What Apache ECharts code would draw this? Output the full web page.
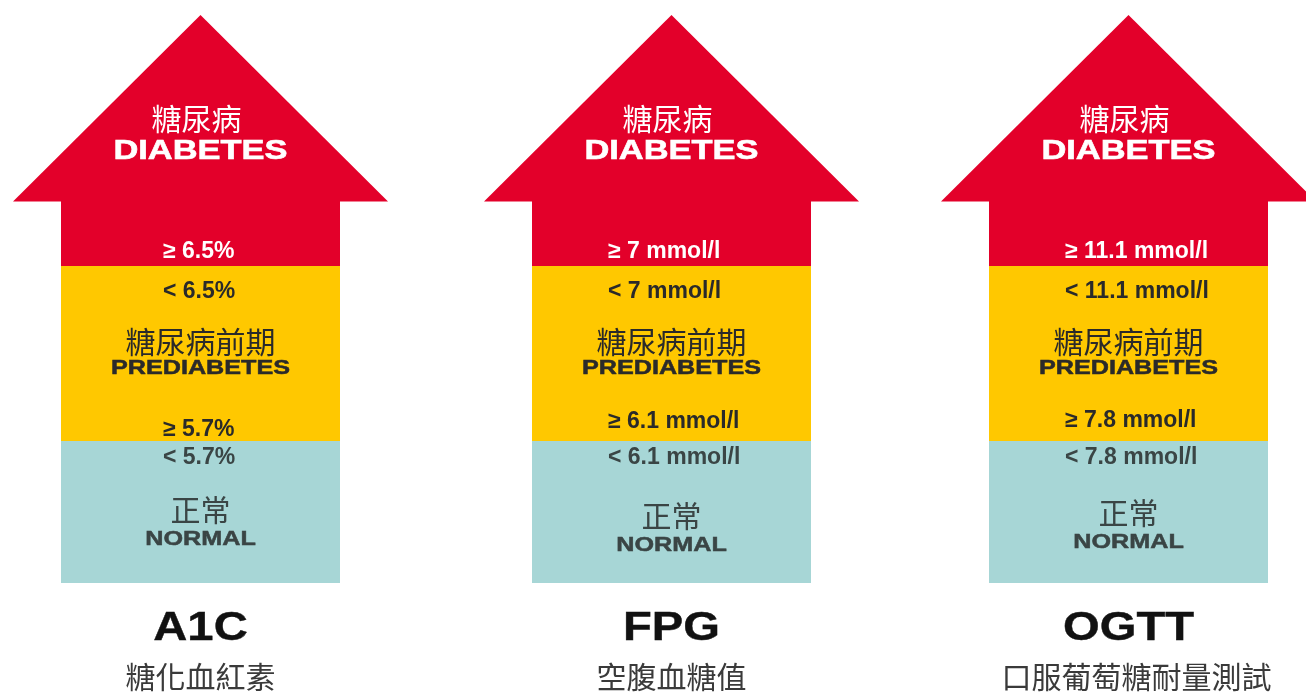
<!DOCTYPE html>
<html>
<head>
<meta charset="utf-8">
<title>糖尿病診斷標準</title>
<script src="https://cdn.jsdelivr.net/npm/echarts@6/dist/echarts.min.js"></script>
<style>
  html, body { margin: 0; padding: 0; background: #ffffff; }
  #chart { width: 1306px; height: 693px; }
</style>
</head>
<body>
<div id="chart"></div>
<script>
// Tests and their diagnostic thresholds
const tests = ['A1C', 'FPG', 'OGTT'];
const testNamesZh = ['糖化血紅素', '空腹血糖值', '口服葡萄糖耐量測試'];
const diabetesFrom = ['≥ 6.5%', '≥ 7 mmol/l', '≥ 11.1 mmol/l'];
const prediabetesBelow = ['< 6.5%', '< 7 mmol/l', '< 11.1 mmol/l'];
const prediabetesFrom = ['≥ 5.7%', '≥ 6.1 mmol/l', '≥ 7.8 mmol/l'];
const normalBelow = ['< 5.7%', '< 6.1 mmol/l', '< 7.8 mmol/l'];

// Stage names, bottom to top
const stageZh = ['正常', '糖尿病前期', '糖尿病'];
const stageEn = ['NORMAL', 'PREDIABETES', 'DIABETES'];

// Height of each stage band along the arrow (arbitrary units)
const normalSpan = [142, 142, 142];
const prediabetesSpan = [175, 175, 175];
const diabetesSpan = [65, 65, 65];
const arrowheadSpan = [186, 186, 186];

// ---- layout & style ----
const colors = { normal: '#A7D6D6', prediabetes: '#FFC800', diabetes: '#E3002A' };
const ink = { onRed: '#FFFFFF', onYellow: '#2A2A2A', onTeal: '#3A4545', title: '#111111', sub: '#3A3A3A' };
const gridLefts = [61, 532, 989];
const gridWidth = 279;
const gridTop = 15;
const gridHeight = 568;
const headWidthRatio = 375 / 279;
const thresholdLeft = [102, 76, 76];      // px from body left edge
const prediabetesFromGap = [11, 19, 20];  // px above the teal/yellow boundary
const normalTextDrop = [0, 6, 3];

const CJK = '"Noto Sans CJK TC", "Noto Sans CJK SC", sans-serif';
const SANS = '"Liberation Sans", Arial, sans-serif';

function txt(text, x, y, font, fill, align, sx, heavy) {
  const style = { text: text, x: 0, y: 0, font: font, fill: fill, align: align || 'center', verticalAlign: 'middle' };
  if (heavy) { style.stroke = fill; style.lineWidth = heavy; }
  return { type: 'text', x: x, y: y, scaleX: sx || 1, scaleY: 1, style: style };
}

function headRenderer(i) {
  return function (params, api) {
    const base = api.coord([api.value(0), api.value(1)]);
    const tip = api.coord([api.value(0), api.value(2)]);
    const half = api.size([1, 0])[0] / 2 * headWidthRatio;
    return {
      type: 'polygon',
      shape: { points: [[base[0] - half, base[1] + 0.5], [base[0] + half, base[1] + 0.5], [base[0], tip[1]]] },
      style: { fill: colors.diabetes }
    };
  };
}

function labelRenderer(i) {
  return function (params, api) {
    const bottom = api.coord([0, 0]);
    const cx = bottom[0];
    const yBottom = bottom[1];
    const yPre = api.coord([0, normalSpan[i]])[1];
    const yDia = api.coord([0, normalSpan[i] + prediabetesSpan[i]])[1];
    const yHead = api.coord([0, normalSpan[i] + prediabetesSpan[i] + diabetesSpan[i]])[1];
    const bw = api.size([1, 0])[0];
    const tx = cx - bw / 2 + thresholdLeft[i];
    const th = 'bold 23px ' + SANS;
    const nd = normalTextDrop[i];
    return {
      type: 'group',
      children: [
        // diabetes
        txt(stageZh[2], cx - 4, yHead - 82, '30px ' + CJK, ink.onRed),
        txt(stageEn[2], cx, yHead - 50, 'bold 28px ' + SANS, ink.onRed, 'center', 1.23, 0.6),
        txt(diabetesFrom[i], tx, yDia - 14, th, ink.onRed, 'left'),
        // prediabetes
        txt(prediabetesBelow[i], tx, yDia + 26, th, ink.onYellow, 'left'),
        txt(stageZh[1], cx, yDia + 76, '30px ' + CJK, ink.onYellow),
        txt(stageEn[1], cx, yDia + 102, 'bold 21px ' + SANS, ink.onYellow, 'center', 1.2, 0.5),
        txt(prediabetesFrom[i], tx, yPre - prediabetesFromGap[i], th, ink.onYellow, 'left'),
        // normal
        txt(normalBelow[i], tx, yPre + 17, th, ink.onTeal, 'left'),
        txt(stageZh[0], cx, yPre + 69 + nd, '30px ' + CJK, ink.onTeal),
        txt(stageEn[0], cx, yPre + 98 + nd, 'bold 21px ' + SANS, ink.onTeal, 'center', 1.2, 0.5),
        // test name
        txt(tests[i], cx, yBottom + 46, 'bold 40px ' + SANS, ink.title, 'center', 1.18, 0.4),
        txt(testNamesZh[i], cx + (i === 2 ? 8 : 0), yBottom + 94, '30px ' + CJK, ink.sub)
      ]
    };
  };
}

const grid = [], xAxis = [], yAxis = [], series = [];
tests.forEach(function (name, i) {
  const total = normalSpan[i] + prediabetesSpan[i] + diabetesSpan[i] + arrowheadSpan[i];
  grid.push({ left: gridLefts[i], top: gridTop, width: gridWidth, height: gridHeight });
  xAxis.push({ type: 'category', gridIndex: i, data: [name], show: false, boundaryGap: true });
  yAxis.push({ type: 'value', gridIndex: i, min: 0, max: total, show: false, splitLine: { show: false } });
  const bands = [
    ['normal', normalSpan[i]],
    ['prediabetes', prediabetesSpan[i]],
    ['diabetes', diabetesSpan[i]]
  ];
  bands.forEach(function (b) {
    series.push({
      type: 'bar', name: b[0], xAxisIndex: i, yAxisIndex: i, stack: 'arrow' + i,
      barWidth: '100%', data: [b[1]], itemStyle: { color: colors[b[0]] }, silent: true
    });
  });
  const base = normalSpan[i] + prediabetesSpan[i] + diabetesSpan[i];
  series.push({
    type: 'custom', xAxisIndex: i, yAxisIndex: i, clip: false, silent: true,
    data: [[0, base, base + arrowheadSpan[i]]], renderItem: headRenderer(i), z: 3
  });
  series.push({
    type: 'custom', xAxisIndex: i, yAxisIndex: i, clip: false, silent: true,
    data: [[0]], renderItem: labelRenderer(i), z: 10
  });
});

const chart = echarts.init(document.getElementById('chart'), null, { renderer: 'canvas' });
chart.setOption({
  backgroundColor: '#ffffff',
  animation: false,
  grid: grid,
  xAxis: xAxis,
  yAxis: yAxis,
  series: series
});
</script>
</body>
</html>
